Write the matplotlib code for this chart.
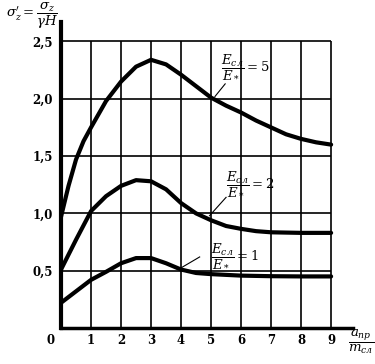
import numpy as np
import matplotlib
matplotlib.use('Agg')
import matplotlib.pyplot as plt

plt.rcParams['font.family'] = 'DejaVu Serif'
plt.rcParams['mathtext.fontset'] = 'dejavuserif'

# curves
x5 = [0, 0.25, 0.5, 0.75, 1, 1.5, 2, 2.5, 3, 3.5, 4, 4.5, 5, 5.5, 6, 6.5, 7, 7.5, 8, 8.5, 9]
y5 = [0.97, 1.24, 1.47, 1.63, 1.75, 1.98, 2.15, 2.28, 2.34, 2.30, 2.21, 2.11, 2.01, 1.94, 1.88, 1.81, 1.75, 1.69, 1.65, 1.62, 1.60]

x2 = [0, 0.5, 1, 1.5, 2, 2.5, 3, 3.5, 4, 4.5, 5, 5.5, 6, 6.5, 7, 8, 9]
y2 = [0.51, 0.77, 1.02, 1.15, 1.24, 1.29, 1.28, 1.21, 1.09, 1.00, 0.94, 0.89, 0.865, 0.845, 0.835, 0.83, 0.83]

x1 = [0, 0.5, 1, 1.5, 2, 2.5, 3, 3.5, 4, 4.5, 5, 6, 7, 8, 9]
y1 = [0.22, 0.32, 0.42, 0.49, 0.565, 0.61, 0.61, 0.565, 0.51, 0.48, 0.47, 0.457, 0.452, 0.45, 0.45]

xticks = [1, 2, 3, 4, 5, 6, 7, 8, 9]
yticks = [0.5, 1.0, 1.5, 2.0, 2.5]
ylabels = ['0,5', '1,0', '1,5', '2,0', '2,5']

fig = plt.figure(figsize=(3.75, 3.64), dpi=100)
ax = fig.add_axes([0.1627, 0.0989, 0.7787, 0.8407])
ax.set_xlim(0, 9.73)
ax.set_ylim(0, 2.67)

# grid lines
ax.vlines(xticks, 0, 2.5, color='black', lw=1.2)
ax.hlines(yticks, 0, 9, color='black', lw=1.2)

for xs, ys in [(x5, y5), (x2, y2), (x1, y1)]:
    ax.plot(xs, ys, color='black', lw=3, solid_joinstyle='round', solid_capstyle='round')

for s in ['top', 'right']:
    ax.spines[s].set_visible(False)
ax.spines['left'].set_linewidth(3)
ax.spines['bottom'].set_linewidth(2.5)

ax.set_xticks(xticks)
ax.set_xticklabels([str(v) for v in xticks], fontweight='bold', fontsize=8.5)
ax.set_yticks(yticks)
ax.set_yticklabels(ylabels, fontweight='bold', fontsize=8.5)
ax.tick_params(axis='x', length=0, pad=4.5)
ax.tick_params(axis='y', length=0, pad=6)
ax.text(-0.34, -0.105, '0', fontweight='bold', fontsize=8.5, ha='center', va='center')

# curve labels with leader lines
ax.text(6.15, 2.28, r'$\dfrac{E_{сл}}{E_*} = 5$', fontsize=9.5, ha='center', va='center')
ax.plot([5.47, 5.13], [2.13, 2.02], color='black', lw=0.8)
ax.text(6.3, 1.26, r'$\dfrac{E_{сл}}{E_*} = 2$', fontsize=9.5, ha='center', va='center')
ax.plot([5.5, 4.95], [1.14, 0.98], color='black', lw=0.8)
ax.text(5.8, 0.63, r'$\dfrac{E_{сл}}{E_*} = 1$', fontsize=9.5, ha='center', va='center')
ax.plot([4.62, 3.97], [0.62, 0.52], color='black', lw=0.8)

# axis titles
fig.text(0.085, 0.955, r"$\sigma^{\prime}_z = \dfrac{\sigma_z}{\gamma H}$", fontsize=9.5, ha='center', va='center')
fig.text(0.962, 0.062, r'$\dfrac{a_{пр}}{m_{сл}}$', fontsize=9.5, ha='center', va='center')

fig.savefig('out.png', dpi=100)
